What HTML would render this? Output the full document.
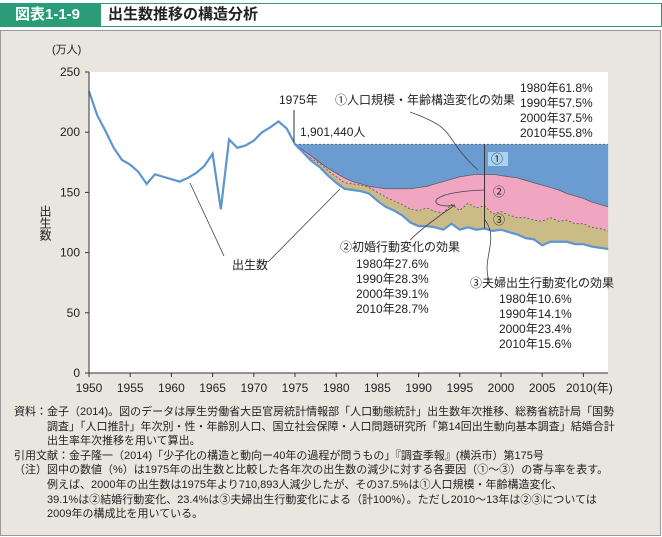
<!DOCTYPE html>
<html><head><meta charset="utf-8">
<style>
body{margin:0;width:662px;height:537px;background:#fff;font-family:"Liberation Sans","Noto Sans CJK JP",sans-serif;overflow:hidden;position:relative}
.hdr{position:absolute;left:0;top:3px;width:662px;height:24px;border:1px solid #2a9d78;box-sizing:border-box;background:#fff}
.tag{position:absolute;left:0;top:0;width:100px;height:22px;background:#2a9d78;color:#fff;font-weight:bold;font-size:15px;line-height:22px;padding-left:14px;box-sizing:border-box}
.ttl{position:absolute;left:107px;top:0;font-weight:bold;font-size:15px;line-height:22px;color:#222}
.frame{position:absolute;left:0;top:30px;width:661px;height:506px;background:#e8e6df;border:1px solid #999;box-sizing:border-box}
.notes{position:absolute;left:14px;top:405px;font-size:11px;line-height:14.6px;color:#222;white-space:pre}
</style></head><body>
<div class="hdr"><div class="tag">図表1-1-9</div><div class="ttl">出生数推移の構造分析</div></div>
<div class="frame"></div>
<svg id="chart" width="662" height="400" style="position:absolute;left:0;top:0" font-family="Liberation Sans, Noto Sans CJK JP, sans-serif"></svg>
<div class="notes">資料：金子（2014)。図のデータは厚生労働省大臣官房統計情報部「人口動態統計」出生数年次推移、総務省統計局「国勢
　　　調査」「人口推計」年次別・性・年齢別人口、国立社会保障・人口問題研究所「第14回出生動向基本調査」結婚合計
　　　出生率年次推移を用いて算出。
引用文献：金子隆一（2014)「少子化の構造と動向ー40年の過程が問うもの」『調査季報』(横浜市）第175号
（注）図中の数値（%）は1975年の出生数と比較した各年次の出生数の減少に対する各要因（①〜③）の寄与率を表す。
　　　例えば、2000年の出生数は1975年より710,893人減少したが、その37.5%は①人口規模・年齢構造変化、
　　　39.1%は②結婚行動変化、23.4%は③夫婦出生行動変化による（計100%）。ただし2010〜13年は②③については
　　　2009年の構成比を用いている。</div>
<script>
const births=[234,214,201,187,177,173,167,157,165,163,161,159,162,166,172,182,136,194,187,189,193,200,204,209,203,190,183,176,171,164,158,153,152,151,149,143,138,135,131,125,122,122,121,119,124,119,121,119,120,118,119,117,115,112,111,106,109,109,109,107,107,105,104,103];
const bandYears=[1975,1976,1977,1978,1979,1980,1981,1982,1983,1984,1985,1986,1987,1988,1989,1990,1991,1992,1993,1994,1995,1996,1997,1998,1999,2000,2001,2002,2003,2004,2005,2006,2007,2008,2009,2010,2011,2012,2013];
const marriageTop=[190,183,178,174,168,163,158,157,156,154,150,146,143,140,136,135,137,134,133,140,135,141,137,139,132,134,131,129,129,127,126,129,126,127,124,124,121,120,118];
const structTop=[190,185,180,175,170,166,162,159,157,155,154,153,153,153,153,154,155,157,159,161,163,164,165,165,165,164,163,162,160,158,156,154,152,149,147,145,142,140,138];
const base1975=190;
const xTicks=[1950,1955,1960,1965,1970,1975,1980,1985,1990,1995,2000,2005,2010];
const yTicks=[0,50,100,150,200,250];
const X=y=>89+(y-1950)*8.24, Y=v=>373-v*1.204;
const svg=document.getElementById('chart');const NS='http://www.w3.org/2000/svg';
function mk(t,a,txt){const e=document.createElementNS(NS,t);for(const k in a)e.setAttribute(k,a[k]);if(txt!=null)e.textContent=txt;svg.appendChild(e);return e;}
let e;
e=mk('rect',{x:89,y:72,width:519,height:301,fill:'#fff'});

const bx=bandYears.map(X);
function area(top,bot){let d='M'+bx.map((x,i)=>x+','+Y(top[i])).join('L');for(let i=bx.length-1;i>=0;i--)d+='L'+bx[i]+','+Y(bot[i]);return d+'Z';}
const flat=bandYears.map(()=>base1975), bb=bandYears.map(y=>births[y-1950]);
e=mk('path',{d:area(flat,structTop),fill:'#6a9bd1'});

e=mk('path',{d:area(structTop,marriageTop),fill:'#f0a6c0'});

e=mk('path',{d:area(marriageTop,bb),fill:'#cbbb86'});

e=mk('line',{x1:X(1975),x2:X(2013),y1:Y(base1975),y2:Y(base1975),stroke:'#555','stroke-dasharray':'2,2','stroke-width':0.8});

e=mk('polyline',{points:bx.map((x,i)=>x+','+Y(structTop[i])).join(' '),fill:'none',stroke:'#555','stroke-width':0.7});

e=mk('polyline',{points:bx.map((x,i)=>x+','+Y(marriageTop[i])).join(' '),fill:'none',stroke:'#555','stroke-dasharray':'2,2','stroke-width':0.8});

e=mk('polyline',{points:births.map((v,i)=>X(1950+i)+','+Y(v)).join(' '),fill:'none',stroke:'#5d95d0','stroke-width':2.2});

mk('line',{x1:89,x2:89,y1:72,y2:373,stroke:'#333'});
mk('line',{x1:89,x2:608,y1:373,y2:373,stroke:'#333'});
yTicks.forEach(v=>{mk('line',{x1:85,x2:89,y1:Y(v),y2:Y(v),stroke:'#333'});e=mk('text',{x:80,y:Y(v)+4,'font-size':12,'text-anchor':'end',fill:'#222'},v);});
xTicks.forEach(v=>{mk('line',{x1:X(v),x2:X(v),y1:373,y2:377,stroke:'#333'});e=mk('text',{x:X(v),y:392,'font-size':12,'text-anchor':'middle',fill:'#222'},v===2010?'':v);});
e=mk('text',{x:566,y:392,'font-size':12,fill:'#222'},'2010(年)');
e=mk('text',{x:52,y:53,'font-size':11,fill:'#222'},'(万人)');
e=mk('text',{x:45,y:205,'font-size':12,fill:'#222','writing-mode':'tb'},'出生数');
function t(x,y,s,n,fs){const el=mk('text',{x:x,y:y,'font-size':fs||12,fill:'#222'},s);}
t(279,104,'1975年','label-1975');t(300,136,'1,901,440人','label-1975-births');
t(335,104,'①人口規模・年齢構造変化の効果','label-effect-1');
['1980年61.8%','1990年57.5%','2000年37.5%','2010年55.8%'].forEach((s,i)=>t(520,92+i*15,s,'effect-1-value'));
t(340,251,'②初婚行動変化の効果','label-effect-2');
['1980年27.6%','1990年28.3%','2000年39.1%','2010年28.7%'].forEach((s,i)=>t(356,268+i*15,s,'effect-2-value'));
t(470,287,'③夫婦出生行動変化の効果','label-effect-3');
['1980年10.6%','1990年14.1%','2000年23.4%','2010年15.6%'].forEach((s,i)=>t(499,303+i*15,s,'effect-3-value'));
t(232,269,'出生数','label-births');
mk('rect',{x:488,y:152,width:20,height:14,fill:'#a9d3f0'});
t(491,163,'①','marker-1');t(493,196,'②','marker-2');t(493,224,'③','marker-3');
mk('line',{x1:X(1998),x2:X(1998),y1:Y(base1975),y2:Y(births[48]),stroke:'#333','stroke-width':1});
mk('line',{x1:294,x2:294,y1:110,y2:142,stroke:'#333'});
mk('line',{x1:224,x2:190,y1:256,y2:183,stroke:'#444','stroke-width':0.8});
mk('line',{x1:268,x2:340,y1:262,y2:189,stroke:'#444','stroke-width':0.8});
mk('path',{d:'M410,112 C460,130 440,135 478,170',stroke:'#444',fill:'none','stroke-width':0.8});
mk('path',{d:'M485,190 C420,192 430,210 455,205 C440,215 420,230 410,240',stroke:'#444',fill:'none','stroke-width':0.8});
mk('path',{d:'M485,220 C500,240 480,260 490,283',stroke:'#444',fill:'none','stroke-width':0.8});
</script>
</body></html>
